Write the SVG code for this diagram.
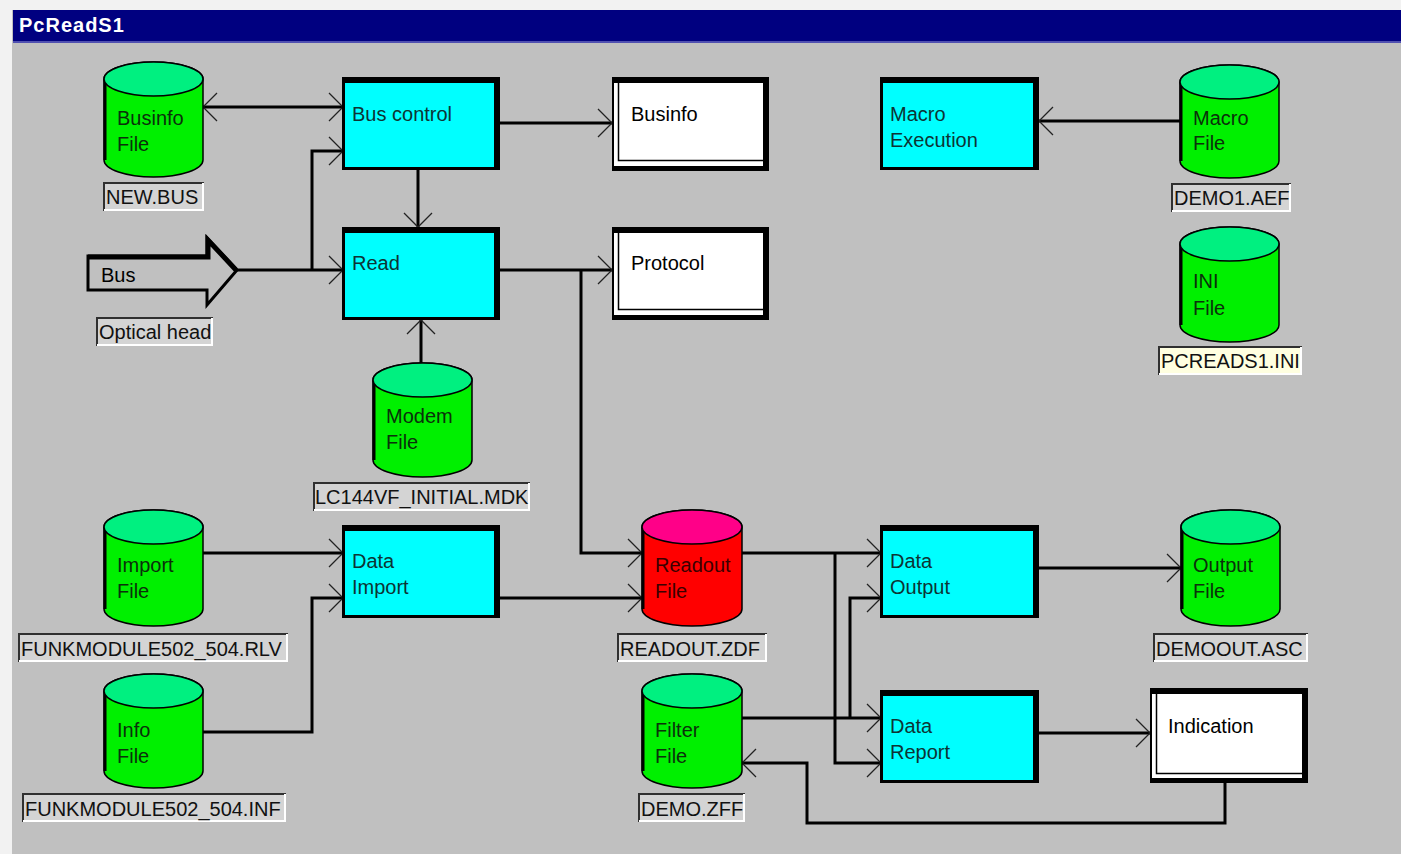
<svg xmlns="http://www.w3.org/2000/svg" width="1401" height="854" viewBox="0 0 1401 854">
<style>
  .t { font-family: "Liberation Sans", Arial, sans-serif; font-size: 20px; }
  .title { font-family: "Liberation Sans", Arial, sans-serif; font-size: 20px; font-weight: bold; fill: #ffffff; letter-spacing: 1px; }
  .pt { fill: #0d3434; }
  .gt { fill: #0b300b; }
  .rt { fill: #3a0000; }
  .bt { fill: #000000; }
  .lt { fill: #111111; }
  .proc-shadow { fill: #000000; }
  .proc-face { fill: #00ffff; }
  .cyl-body { stroke: #000000; stroke-width: 1.5; }
  .cyl-edge { stroke: #000000; stroke-width: 3; fill: none; }
  .green-body { fill: #00f000; }
  .green-top { fill: #00f080; stroke: #000000; stroke-width: 1.5; }
  .red-body { fill: #ff0000; }
  .red-top { fill: #ff0088; stroke: #000000; stroke-width: 1.5; }
  .lbl { fill: #d4d4d4; }
  .lbl-y { fill: #ffffe0; }
  .lbl-dark { fill: none; stroke: #303030; stroke-width: 2; }
  .lbl-light { fill: none; stroke: #ffffff; stroke-width: 2; }
  .conn { fill: none; stroke: #000000; stroke-width: 3; stroke-linejoin: miter; }
  .inner { fill: none; stroke: #000000; stroke-width: 1.5; }
</style>
<defs>
  <marker id="ah" markerUnits="userSpaceOnUse" markerWidth="32" markerHeight="32" viewBox="-16 -16 32 32" refX="0" refY="0" orient="auto" overflow="visible">
    <path d="M-14,-14 L0,0 L-14,14" fill="none" stroke="#222222" stroke-width="1.3"/>
  </marker>
  <marker id="ahs" markerUnits="userSpaceOnUse" markerWidth="32" markerHeight="32" viewBox="-16 -16 32 32" refX="0" refY="0" orient="auto-start-reverse" overflow="visible">
    <path d="M-14,-14 L0,0 L-14,14" fill="none" stroke="#222222" stroke-width="1.3"/>
  </marker>
</defs>

<!-- window frame -->
<rect x="0" y="0" width="1401" height="854" fill="#f2f2f2"/>
<rect x="12" y="10" width="1389" height="844" fill="#c0c0c0"/>
<rect x="13" y="10" width="1388" height="33" fill="#000080"/>
<rect x="13" y="41" width="1388" height="2" fill="#5050b0"/>
<text class="title" x="19" y="32">PcReadS1</text>

<!-- connectors -->
<g id="connectors">
  <path class="conn" d="M203,107 H343" marker-start="url(#ahs)" marker-end="url(#ah)"/>
  <path class="conn" d="M237,270 H343" marker-end="url(#ah)"/>
  <path class="conn" d="M312,270 V151 H343" marker-end="url(#ah)"/>
  <path class="conn" d="M418,170 V227" marker-end="url(#ah)"/>
  <path class="conn" d="M500,123 H612" marker-end="url(#ah)"/>
  <path class="conn" d="M499,270 H612" marker-end="url(#ah)"/>
  <path class="conn" d="M581,270 V553 H642" marker-end="url(#ah)"/>
  <path class="conn" d="M421,363 V320" marker-end="url(#ah)"/>
  <path class="conn" d="M1180,121 H1039" marker-end="url(#ah)"/>
  <path class="conn" d="M203,553 H343" marker-end="url(#ah)"/>
  <path class="conn" d="M203,732 H312 V598 H343" marker-end="url(#ah)"/>
  <path class="conn" d="M499,598 H642" marker-end="url(#ah)"/>
  <path class="conn" d="M742,553 H881" marker-end="url(#ah)"/>
  <path class="conn" d="M835,553 V763 H881" marker-end="url(#ah)"/>
  <path class="conn" d="M742,718 H881" marker-end="url(#ah)"/>
  <path class="conn" d="M850,718 V598 H881" marker-end="url(#ah)"/>
  <path class="conn" d="M1038,568 H1181" marker-end="url(#ah)"/>
  <path class="conn" d="M1038,733 H1150" marker-end="url(#ah)"/>
  <path class="conn" d="M1225,783 V823 H807 V763 H742" marker-end="url(#ah)"/>
</g>

<!-- processes -->
<g id="bus-control">
  <rect class="proc-shadow" x="342" y="77" width="158" height="93"/>
  <rect class="proc-face" x="345" y="83" width="149" height="84"/>
  <text class="t pt" x="352" y="121">Bus control</text>
</g>
<g id="read">
  <rect class="proc-shadow" x="342" y="227" width="158" height="93"/>
  <rect class="proc-face" x="345" y="233" width="149" height="84"/>
  <text class="t pt" x="352" y="270">Read</text>
</g>
<g id="data-import">
  <rect class="proc-shadow" x="342" y="525" width="158" height="93"/>
  <rect class="proc-face" x="345" y="531" width="149" height="84"/>
  <text class="t pt" x="352" y="568">Data</text>
  <text class="t pt" x="352" y="594">Import</text>
</g>
<g id="macro-execution">
  <rect class="proc-shadow" x="880" y="77" width="159" height="93"/>
  <rect class="proc-face" x="883" y="83" width="150" height="84"/>
  <text class="t pt" x="890" y="121">Macro</text>
  <text class="t pt" x="890" y="147">Execution</text>
</g>
<g id="data-output">
  <rect class="proc-shadow" x="880" y="525" width="159" height="93"/>
  <rect class="proc-face" x="883" y="531" width="150" height="84"/>
  <text class="t pt" x="890" y="568">Data</text>
  <text class="t pt" x="890" y="594">Output</text>
</g>
<g id="data-report">
  <rect class="proc-shadow" x="880" y="690" width="159" height="93"/>
  <rect class="proc-face" x="883" y="696" width="150" height="84"/>
  <text class="t pt" x="890" y="733">Data</text>
  <text class="t pt" x="890" y="759">Report</text>
</g>

<!-- output boxes -->
<g id="businfo">
  <rect fill="#000" x="612" y="77" width="157" height="94"/>
  <rect fill="#fff" x="614" y="83" width="149" height="83"/>
  <path class="inner" d="M618.5,83 V160.5 H763"/>
  <text class="t bt" x="631" y="121">Businfo</text>
</g>
<g id="protocol">
  <rect fill="#000" x="612" y="227" width="157" height="93"/>
  <rect fill="#fff" x="614" y="233" width="149" height="82"/>
  <path class="inner" d="M618.5,233 V309.5 H763"/>
  <text class="t bt" x="631" y="270">Protocol</text>
</g>
<g id="indication">
  <rect fill="#000" x="1150" y="688" width="158" height="95"/>
  <rect fill="#fff" x="1152" y="694" width="150" height="84"/>
  <path class="inner" d="M1156.5,694 V773.5 H1302"/>
  <text class="t bt" x="1168" y="733">Indication</text>
</g>

<!-- external entity -->
<g id="bus">
  <polygon points="88,256 207,256 207,238 237,270 207,305 207,290 88,290" fill="#c0c0c0" stroke="#000" stroke-width="3" stroke-linejoin="miter"/>
  <polyline points="88,257 208,257 208,240 236,270" fill="none" stroke="#000" stroke-width="5" stroke-linejoin="miter"/>
  <text class="t bt" x="101" y="282">Bus</text>
  <rect class="lbl" x="96" y="317" width="117" height="29"/>
  <path class="lbl-dark" d="M97,346 V318 H213"/>
  <path class="lbl-light" d="M97,345 H212 V318"/>
  <text class="t lt" x="99" y="339">Optical head</text>
</g>

<!-- cylinders -->
<g id="businfo-file">
  <path class="cyl-body green-body" d="M104,79 A49.5,17 0 0 1 203,79 V160 A49.5,17 0 0 1 104,160 Z"/>
  <line class="cyl-edge" x1="105" y1="79" x2="105" y2="160"/>
  <ellipse class="green-top" cx="153.5" cy="79" rx="49.5" ry="17"/>
  <text class="t gt" x="117" y="125">Businfo</text>
  <text class="t gt" x="117" y="151">File</text>
  <rect class="lbl" x="103" y="182" width="101" height="29"/>
  <path class="lbl-dark" d="M104,211 V183 H204"/>
  <path class="lbl-light" d="M104,210 H203 V183"/>
  <text class="t lt" x="106" y="204">NEW.BUS</text>
</g>
<g id="modem-file">
  <path class="cyl-body green-body" d="M373,380 A49.5,17 0 0 1 472,380 V460 A49.5,17 0 0 1 373,460 Z"/>
  <line class="cyl-edge" x1="374" y1="380" x2="374" y2="460"/>
  <ellipse class="green-top" cx="422.5" cy="380" rx="49.5" ry="17"/>
  <text class="t gt" x="386" y="423">Modem</text>
  <text class="t gt" x="386" y="449">File</text>
  <rect class="lbl" x="313" y="482" width="217" height="29"/>
  <path class="lbl-dark" d="M314,511 V483 H530"/>
  <path class="lbl-light" d="M314,510 H529 V483"/>
  <text class="t lt" x="315" y="504">LC144VF_INITIAL.MDK</text>
</g>
<g id="macro-file">
  <path class="cyl-body green-body" d="M1180,82 A49.5,17 0 0 1 1279,82 V161 A49.5,17 0 0 1 1180,161 Z"/>
  <line class="cyl-edge" x1="1181" y1="82" x2="1181" y2="161"/>
  <ellipse class="green-top" cx="1229.5" cy="82" rx="49.5" ry="17"/>
  <text class="t gt" x="1193" y="125">Macro</text>
  <text class="t gt" x="1193" y="150">File</text>
  <rect class="lbl" x="1171" y="183" width="120" height="29"/>
  <path class="lbl-dark" d="M1172,212 V184 H1291"/>
  <path class="lbl-light" d="M1172,211 H1290 V184"/>
  <text class="t lt" x="1174" y="205">DEMO1.AEF</text>
</g>
<g id="ini-file">
  <path class="cyl-body green-body" d="M1180,244 A49.5,17 0 0 1 1279,244 V325 A49.5,17 0 0 1 1180,325 Z"/>
  <line class="cyl-edge" x1="1181" y1="244" x2="1181" y2="325"/>
  <ellipse class="green-top" cx="1229.5" cy="244" rx="49.5" ry="17"/>
  <text class="t gt" x="1193" y="288">INI</text>
  <text class="t gt" x="1193" y="315">File</text>
  <rect class="lbl-y" x="1158" y="346" width="144" height="29"/>
  <path class="lbl-dark" d="M1159,375 V347 H1302"/>
  <path class="lbl-light" d="M1159,374 H1301 V347"/>
  <text class="t lt" x="1161" y="368">PCREADS1.INI</text>
</g>
<g id="import-file">
  <path class="cyl-body green-body" d="M104,527 A49.5,17 0 0 1 203,527 V609 A49.5,17 0 0 1 104,609 Z"/>
  <line class="cyl-edge" x1="105" y1="527" x2="105" y2="609"/>
  <ellipse class="green-top" cx="153.5" cy="527" rx="49.5" ry="17"/>
  <text class="t gt" x="117" y="572">Import</text>
  <text class="t gt" x="117" y="598">File</text>
  <rect class="lbl" x="18" y="633" width="270" height="29"/>
  <path class="lbl-dark" d="M19,662 V634 H288"/>
  <path class="lbl-light" d="M19,661 H287 V634"/>
  <text class="t lt" x="21" y="656">FUNKMODULE502_504.RLV</text>
</g>
<g id="info-file">
  <path class="cyl-body green-body" d="M104,691 A49.5,17 0 0 1 203,691 V771 A49.5,17 0 0 1 104,771 Z"/>
  <line class="cyl-edge" x1="105" y1="691" x2="105" y2="771"/>
  <ellipse class="green-top" cx="153.5" cy="691" rx="49.5" ry="17"/>
  <text class="t gt" x="117" y="737">Info</text>
  <text class="t gt" x="117" y="763">File</text>
  <rect class="lbl" x="22" y="793" width="264" height="29"/>
  <path class="lbl-dark" d="M23,822 V794 H286"/>
  <path class="lbl-light" d="M23,821 H285 V794"/>
  <text class="t lt" x="25" y="816">FUNKMODULE502_504.INF</text>
</g>
<g id="readout-file">
  <path class="cyl-body red-body" d="M642,527 A50,17 0 0 1 742,527 V609 A50,17 0 0 1 642,609 Z"/>
  <line class="cyl-edge" x1="643" y1="527" x2="643" y2="609"/>
  <ellipse class="red-top" cx="692" cy="527" rx="50" ry="17"/>
  <text class="t rt" x="655" y="572">Readout</text>
  <text class="t rt" x="655" y="598">File</text>
  <rect class="lbl" x="617" y="633" width="150" height="29"/>
  <path class="lbl-dark" d="M618,662 V634 H767"/>
  <path class="lbl-light" d="M618,661 H766 V634"/>
  <text class="t lt" x="620" y="656">READOUT.ZDF</text>
</g>
<g id="filter-file">
  <path class="cyl-body green-body" d="M642,691 A50,17 0 0 1 742,691 V771 A50,17 0 0 1 642,771 Z"/>
  <line class="cyl-edge" x1="643" y1="691" x2="643" y2="771"/>
  <ellipse class="green-top" cx="692" cy="691" rx="50" ry="17"/>
  <text class="t gt" x="655" y="737">Filter</text>
  <text class="t gt" x="655" y="763">File</text>
  <rect class="lbl" x="638" y="793" width="107" height="29"/>
  <path class="lbl-dark" d="M639,822 V794 H745"/>
  <path class="lbl-light" d="M639,821 H744 V794"/>
  <text class="t lt" x="641" y="816">DEMO.ZFF</text>
</g>
<g id="output-file">
  <path class="cyl-body green-body" d="M1181,527 A49.5,17 0 0 1 1280,527 V609 A49.5,17 0 0 1 1181,609 Z"/>
  <line class="cyl-edge" x1="1182" y1="527" x2="1182" y2="609"/>
  <ellipse class="green-top" cx="1230.5" cy="527" rx="49.5" ry="17"/>
  <text class="t gt" x="1193" y="572">Output</text>
  <text class="t gt" x="1193" y="598">File</text>
  <rect class="lbl" x="1153" y="633" width="155" height="29"/>
  <path class="lbl-dark" d="M1154,662 V634 H1308"/>
  <path class="lbl-light" d="M1154,661 H1307 V634"/>
  <text class="t lt" x="1156" y="656">DEMOOUT.ASC</text>
</g>
</svg>
